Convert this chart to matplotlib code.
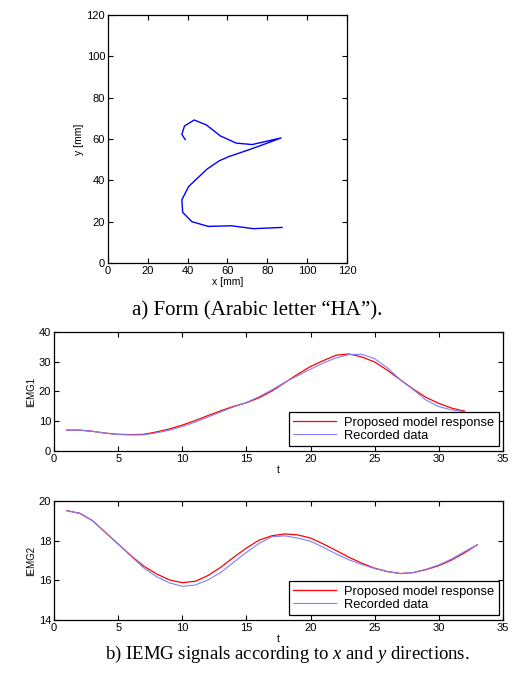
import numpy as np
import matplotlib
matplotlib.use('Agg')
import matplotlib.pyplot as plt

plt.rcParams['font.family'] = ['Liberation Sans', 'DejaVu Sans']
plt.rcParams['font.size'] = 7.5
plt.rcParams['mathtext.fontset'] = 'custom'
plt.rcParams['mathtext.rm'] = 'Liberation Serif'
plt.rcParams['mathtext.it'] = 'Liberation Serif:italic'

# a) letter "HA" trajectory
form_x = [38.8, 37.1, 38.4, 43.3, 49.4, 56.4, 64.4, 72.4, 86.9,
          75.5, 68.1, 60.7, 55.8, 49.7, 40.5, 37.1, 37.5, 42.1, 50.3, 62.0, 73.0, 87.4]
form_y = [59.7, 62.2, 66.3, 69.2, 66.8, 61.5, 58.0, 57.3, 60.5,
          56.4, 53.9, 51.5, 49.4, 45.4, 37.0, 30.6, 24.5, 20.0, 17.7, 18.0, 16.6, 17.2]

# b) IEMG signals
t1 = np.arange(1, 33)
iemg1_model = [7.0, 7.0, 6.6, 6.0, 5.6, 5.5, 5.6, 6.4, 7.4, 8.7, 10.2, 11.9, 13.5, 15.0, 16.2, 17.9,
               20.2, 23.0, 25.8, 28.4, 30.4, 32.2, 32.6, 31.6, 29.9, 27.1, 23.9, 20.8, 18.0, 16.0, 14.4, 13.4]
iemg1_rec = [7.0, 7.0, 6.6, 6.0, 5.5, 5.4, 5.4, 6.1, 7.0, 8.2, 9.7, 11.4, 13.1, 14.8, 16.3, 18.3,
             20.6, 23.1, 25.3, 27.5, 29.6, 31.3, 32.4, 32.5, 31.0, 27.9, 23.9, 20.6, 17.1, 14.9, 13.8, 13.2]

t2 = np.arange(1, 34)
iemg2_model = [19.51, 19.38, 19.01, 18.42, 17.83, 17.24, 16.71, 16.32, 16.02, 15.88, 15.95, 16.24,
               16.66, 17.16, 17.63, 18.03, 18.25, 18.34, 18.29, 18.13, 17.83, 17.50, 17.16, 16.86,
               16.61, 16.44, 16.34, 16.39, 16.54, 16.74, 17.03, 17.39, 17.80]
iemg2_rec = [19.51, 19.38, 19.01, 18.42, 17.83, 17.22, 16.62, 16.18, 15.87, 15.70, 15.76, 16.02,
             16.40, 16.91, 17.41, 17.87, 18.20, 18.24, 18.13, 17.97, 17.66, 17.33, 17.03, 16.80,
             16.59, 16.44, 16.34, 16.39, 16.56, 16.78, 17.08, 17.45, 17.80]

labels = ['Proposed model response', 'Recorded data']


def style(ax):
    ax.tick_params(direction='in', top=True, right=True, length=3.5, width=0.8, labelsize=8, pad=2)
    for s in ax.spines.values():
        s.set_linewidth(0.9)


fig = plt.figure(figsize=(5.12, 6.75), dpi=100)

ax1 = fig.add_axes([0.2109, 0.6104, 0.4668, 0.3674])
ax1.plot(form_x, form_y, color='#0000ff', lw=1.0)
ax1.set_xlim(0, 120)
ax1.set_ylim(0, 120)
ax1.set_xticks(range(0, 121, 20))
ax1.set_yticks(range(0, 121, 20))
ax1.set_xlabel('x [mm]', labelpad=1)
ax1.set_ylabel('y [mm]', labelpad=2)
style(ax1)

ax2 = fig.add_axes([0.1055, 0.3319, 0.877, 0.1763])
ax2.plot(t1, iemg1_model, color='#ff0000', lw=0.9, label=labels[0])
ax2.plot(t1, iemg1_rec, color='#8080ff', lw=0.8, label=labels[1])
ax2.set_xlim(0, 35)
ax2.set_ylim(0, 40)
ax2.set_yticks(range(0, 41, 10))
ax2.set_xlabel('t', labelpad=1)
ax2.set_ylabel('IEMG1', labelpad=2, fontsize=7)
style(ax2)

ax3 = fig.add_axes([0.1055, 0.0815, 0.877, 0.1763])
ax3.plot(t2, iemg2_model, color='#ff0000', lw=0.9, label=labels[0])
ax3.plot(t2, iemg2_rec, color='#8080ff', lw=0.8, label=labels[1])
ax3.set_xlim(0, 35)
ax3.set_ylim(14, 20)
ax3.set_yticks(range(14, 21, 2))
ax3.set_xlabel('t', labelpad=1)
ax3.set_ylabel('IEMG2', labelpad=2, fontsize=7)
style(ax3)

for ax in (ax2, ax3):
    leg = ax.legend(loc='lower right', fontsize=9.3, fancybox=False, framealpha=1,
                    edgecolor='black', borderpad=0.35, labelspacing=0.1, handlelength=3.3,
                    handletextpad=0.6, borderaxespad=0.35)
    leg.get_frame().set_linewidth(0.9)

fig.text(0.503, 0.539, 'a) Form (Arabic letter \u201cHA\u201d).', ha='center', va='center',
         family='Liberation Serif', fontsize=15)
fig.text(0.562, 0.030, 'b) IEMG signals according to $x$ and $y$ directions.',
         ha='center', va='center', family='Liberation Serif', fontsize=13.5)

fig.savefig('out.png', dpi=100)
